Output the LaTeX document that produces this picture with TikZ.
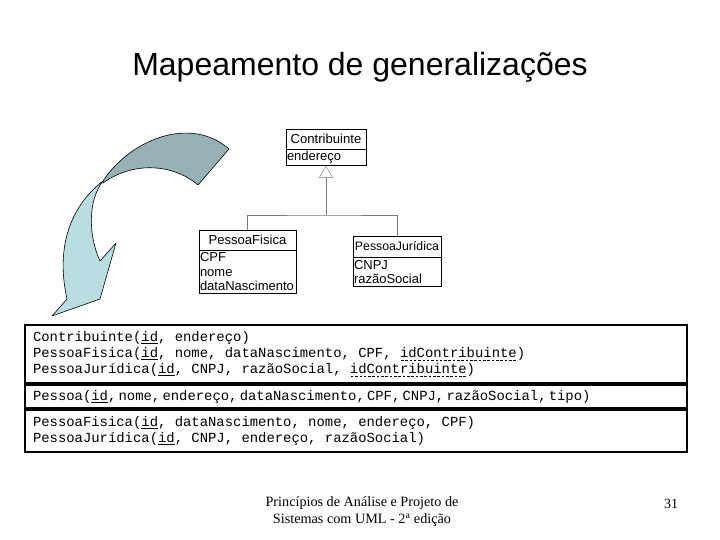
\documentclass[tikz,border=0pt]{standalone}
\usepackage{fontspec}
\setmainfont{Liberation Serif}
\setsansfont{Liberation Sans}
\setmonofont{Liberation Mono}
\usetikzlibrary{positioning,arrows.meta}

\definecolor{fitalight}{RGB}{185,221,225}
\definecolor{fitadark}{RGB}{150,178,180}
\definecolor{linkgray}{RGB}{120,120,120}

% chave primaria e chave estrangeira
\newcommand{\pk}[1]{\setbox0\hbox{#1}\leavevmode\rlap{\raisebox{-2.8pt}{\rule{\wd0}{1.3pt}}}\box0}
\newcommand{\fk}[1]{\setbox0\hbox{#1}\leavevmode\rlap{\raisebox{-2.8pt}{\hbox to \wd0{\xleaders\hbox to 4.2pt{\hss\vrule width 2.6pt height 0.8pt\hss}\hfill}}}\box0}
\newcommand{\cm}{,\hspace{2.2pt}}

\tikzset{
	clsname/.style={draw, inner sep=1pt, font=\sffamily\fontsize{13.1}{15}\selectfont},
	clsattr/.style={draw, inner xsep=1pt, inner ysep=2pt, align=left, font=\sffamily\fontsize{13}{14.5}\selectfont},
	tblrow/.style={draw, line width=2pt, minimum width=662pt, text width=646pt,
		inner xsep=8pt, inner ysep=0pt, align=left,
		font=\ttfamily\fontsize{13.9}{16}\selectfont,
		execute at begin node={\spaceskip=8.34pt\relax\xspaceskip=8.34pt\relax}},
	fita/.style={draw=black, line width=0.6pt, line join=round}
}

\begin{document}
\begin{tikzpicture}[x=1pt, y=-1pt]
	\useasboundingbox (0,0) rectangle (720,540);

	\node[font=\sffamily\fontsize{32}{36}\selectfont] (titulo) at (360,67) {Mapeamento de generaliza\c{c}\~oes};

	% seta curva
	\fill[fitadark, fita] (103,181) .. controls (130,140) and (190,115) .. (229,149)
		-- (198,185) .. controls (175,165) and (135,160) .. (103,183) -- cycle;
	\fill[fitalight, fita] (103,181) .. controls (72,205) and (55,245) .. (67,299)
		-- (52,316) -- (100,299) -- (116,243) -- (100,261)
		.. controls (88,235) and (88,200) .. (103,181) -- cycle;

	% classes
	\node[clsname, minimum width=80pt, minimum height=20pt] (contrib) at (326,139) {Contribuinte};
	\node[clsattr, anchor=north, minimum width=80pt, minimum height=15pt, text width=78pt] (contribA) at (contrib.south) {endere\c{c}o};

	\node[clsname, minimum width=97pt, minimum height=20pt] (fis) at (247.5,240) {PessoaFisica};
	\node[clsattr, anchor=north, minimum width=97pt, minimum height=43pt, text width=95pt] (fisA) at (fis.south) {CPF\\nome\\dataNascimento};

	\node[clsname, minimum width=88pt, minimum height=21pt, font=\sffamily\fontsize{12.3}{15}\selectfont] (jur) at (397,246.5) {PessoaJur\'idica};
	\node[clsattr, anchor=north, minimum width=88pt, minimum height=29pt, text width=86pt] (jurA) at (jur.south) {CNPJ\\raz\~aoSocial};

	\coordinate (barra) at (326,215);
	\draw[linkgray, -{Triangle[open, length=12pt, width=14pt]}] (barra) -- (contribA.south);
	\draw[linkgray] (fis.north) |- (barra) -| (jur.north);

	% tabelas
	\node[tblrow, minimum height=58pt] (map1) at (356,354) {Contribuinte(\pk{id}, endere\c{c}o)\\
		PessoaFisica(\pk{id}, nome, dataNascimento, CPF, \fk{idContribuinte})\\
		PessoaJur\'idica(\pk{id}, CNPJ, raz\~aoSocial, \fk{idContribuinte})};
	\node[tblrow, minimum height=23pt, anchor=north] (map2) at (map1.south) {Pessoa(\pk{id}\cm nome\cm endere\c{c}o\cm dataNascimento\cm CPF\cm CNPJ\cm raz\~aoSocial\cm tipo)};
	\node[tblrow, minimum height=42pt, anchor=north] (map3) at (map2.south) {PessoaFisica(\pk{id}, dataNascimento, nome, endere\c{c}o, CPF)\\
		PessoaJur\'idica(\pk{id}, CNPJ, endere\c{c}o, raz\~aoSocial)};

	% rodape
	\node[align=center, font=\fontsize{14.2}{17}\selectfont] (rodape) at (362,512) {Princ\'ipios de An\'alise e Projeto de\\Sistemas com UML - 2\textsuperscript{a} edi\c{c}\~ao};
	\node[font=\fontsize{14}{17}\selectfont] (pagina) at (671,504) {31};
\end{tikzpicture}
\end{document}
